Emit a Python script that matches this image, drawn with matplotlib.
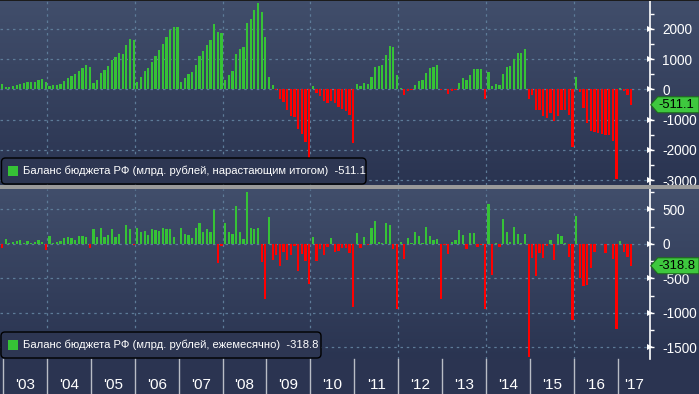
import numpy as np
import matplotlib
matplotlib.use('Agg')
import matplotlib.pyplot as plt
from matplotlib.patches import Polygon, Rectangle, FancyBboxPatch
from matplotlib.transforms import IdentityTransform
from matplotlib.colors import LinearSegmentedColormap
from matplotlib.ticker import FixedLocator, FuncFormatter

plt.rcParams['font.family'] = ['Liberation Sans', 'DejaVu Sans']
plt.rcParams['axes.unicode_minus'] = False

# budget balance, bn RUB, monthly points Dec 2002 .. Apr 2017
# cumulative since start of each year
cumulative = [
    178,                                                                       # Dec 2002
    78, 67, 111, 144, 178, 211, 244, 244, 244, 311, 344, 244,                  # 2003
    111, 144, 144, 178, 278, 378, 444, 511, 611, 711, 811, 744,                # 2004
    211, 311, 544, 644, 778, 978, 1078, 1211, 1178, 1478, 1678, 1644,          # 2005
    244, 411, 611, 711, 911, 1111, 1311, 1511, 1744, 1944, 2044, 2044,         # 2006
    244, 378, 511, 578, 811, 1111, 1278, 1478, 1644, 2144, 1878, 1844,         # 2007
    311, 478, 611, 1178, 1344, 1411, 2178, 2333, 2611, 2844, 2544, 1744,       # 2008
    411, 144, -20, -333, -433, -700, -867, -900, -1300, -1467, -1733, -2260,   # 2009
    111, -133, -219, -372, -437, -383, -459, -590, -656, -732, -863, -1785,    # 2010
    175, 120, 208, 175, 404, 732, 765, 798, 1126, 1421, 1388, 470,             # 2011
    44, -186, -44, -10, 142, 273, 306, 536, 700, 732, 798, -20,                # 2012
    -5, -142, -44, -10, 208, 372, 306, 470, 667, 667, 667, -320,               # 2013
    571, 110, 176, 143, 505, 736, 769, 1000, 1198, 1198, 1330, -308,           # 2014
    -187, -670, -670, -868, -934, -769, -1033, -868, -670, -670, -846, -1923,  # 2015
    407, -77, -604, -1099, -1363, -1396, -1429, -1462, -1495, -1495, -1725, -2956,  # 2016
    44, -44, -200, -511.1,                                                     # 2017
]

# monthly values
monthly = [
    -58,                                                                       # Dec 2002
    63, 10, 19, 34, 48, 10, 34, 10, 19, 48, 19, -87,                           # 2003
    106, 10, 19, 34, 77, 92, 77, 48, 106, 106, 92, -58,                        # 2004
    208, 92, 222, 92, 121, 208, 92, 135, -5, 266, 208, -24,                    # 2005
    222, 164, 179, 121, 208, 193, 179, 222, 208, 208, 92, 3,                   # 2006
    222, 135, 121, 77, 222, 295, 164, 208, 164, 483, -285, -39,                # 2007
    295, 164, 135, 541, 164, 63, 744, 222, 208, 222, -270, -802,               # 2008
    382, -237, -164, -324, -116, -237, -164, -34, -396, -145, -251, -584,      # 2009
    92, -251, -82, -169, -48, 77, -116, -106, -68, -68, -140, -923,            # 2010
    150, -68, 92, -24, 222, 324, 19, 10, 295, 266, -82, -952,                  # 2011
    19, -227, 77, 10, 164, 106, 10, 237, 106, 48, 63, -802,                    # 2012
    -14, -150, 19, 48, 193, 121, -82, 150, 150, -53, -24, -952,                # 2013
    570, -459, 10, -53, 353, 164, 19, 237, 135, 10, 145, -1647,                # 2014
    -213, -464, -140, -213, -29, 48, -237, 135, 106, 10, -198, -1111,          # 2015
    396, -502, -613, -604, -353, -121, -5, -5, -140, -5, -222, -1241,          # 2016
    34, -121, -198, -318.8,                                                    # 2017
]

years = ["'03", "'04", "'05", "'06", "'07", "'08", "'09", "'10",
         "'11", "'12", "'13", "'14", "'15", "'16", "'17"]

label_top = 'Баланс бюджета РФ (млрд. рублей, нарастающим итогом)'
label_bot = 'Баланс бюджета РФ (млрд. рублей, ежемесячно)'

GREEN = '#36c236'
RED = '#ff0000'
GRID = '#5d7b98'
W, H = 699, 394

fig = plt.figure(figsize=(W / 100, H / 100), dpi=100)
fig.patch.set_facecolor('#2b3451')

grad = LinearSegmentedColormap.from_list('bg', ['#2a3451', '#414e6b'])
gimg = np.linspace(0, 1, 256).reshape(-1, 1)[::-1]


def fy(py):
    return 1 - py / H


def panel(top_px, bot_px):
    bg = fig.add_axes([0, fy(bot_px), 1, (bot_px - top_px) / H], zorder=0)
    bg.imshow(gimg, aspect='auto', cmap=grad, extent=[0, 1, 0, 1], vmin=0, vmax=1)
    bg.axis('off')
    ax = fig.add_axes([0, fy(bot_px), 649.7 / W, (bot_px - top_px) / H], zorder=1)
    ax.patch.set_alpha(0)
    return ax


ax1 = panel(0, 185)
ax2 = panel(189, 359)

x = np.arange(len(cumulative))
bounds = 12 * np.arange(len(years)) + 0.3
xmax = 177.1

for ax, vals, major, minor, ylim in [
        (ax1, cumulative, np.arange(-3000, 2001, 1000), np.arange(-3000, 2501, 500), (-3163, 2951)),
        (ax2, monthly, np.arange(-1500, 501, 500), np.arange(-1500, 751, 250), (-1670, 794))]:
    v = np.array(vals, dtype=float)
    cols = [GREEN if a >= 0 else RED for a in v]
    ax.bar(x, v, width=0.62, color=cols, linewidth=0, zorder=3)
    ax.set_xlim(-0.55, xmax)
    ax.set_ylim(*ylim)
    for gy in major:
        ax.axhline(gy, color=GRID, lw=0.9, ls=(0, (2, 3)), zorder=1)
    for gx in bounds[1::2]:
        ax.axvline(gx, color=GRID, lw=0.9, ls=(0, (2, 3)), zorder=1)
    for s in ['top', 'left', 'bottom']:
        ax.spines[s].set_visible(False)
    ax.spines['right'].set_color('white')
    ax.spines['right'].set_linewidth(1.2)
    ax.set_xticks([])
    ax.yaxis.tick_right()
    ax.yaxis.set_major_locator(FixedLocator(major))
    ax.yaxis.set_minor_locator(FixedLocator(minor))
    ax.yaxis.set_major_formatter(FuncFormatter(lambda t, p: f'{t:.0f}'))
    ax.tick_params(axis='y', which='major', length=3, width=1, color='white',
                   labelcolor='white', labelsize=9.8, pad=6)
    ax.tick_params(axis='y', which='minor', length=3, width=1, color='white')
    ax.plot(np.full(len(major), 1.0), major, ls='none', marker='>', ms=5,
            color='white', transform=ax.get_yaxis_transform(), clip_on=False,
            zorder=4, markeredgewidth=0)

# value tags on the right axis
for ax, vals in [(ax1, cumulative), (ax2, monthly)]:
    last = vals[-1]
    yd = ax.transData.transform((0, last))[1]
    x0 = ax.transAxes.transform((1, 0))[0] + 1
    h = 8
    pts = [(x0, yd), (x0 + 7, yd + h), (W, yd + h), (W, yd - h), (x0 + 7, yd - h)]
    fig.add_artist(Polygon(pts, closed=True, transform=IdentityTransform(),
                           fc='#3ec83e', ec='#1e6a1e', lw=0.8, zorder=6))
    fig.text((x0 + 8) / W, yd / H, f'{last:.1f}', color='black', fontsize=9.4,
             va='center', ha='left', zorder=7)

# legend boxes
for (x0, y0, x1, y1), txt in [((1.5, 158, 366, 184), f'{label_top}  {cumulative[-1]:.1f}'),
                              ((1, 332, 321, 358), f'{label_bot}  {monthly[-1]:.1f}')]:
    box = FancyBboxPatch((x0, H - y1), x1 - x0, y1 - y0,
                         boxstyle='round,pad=0,rounding_size=4',
                         transform=IdentityTransform(), fc='#2d3652', ec='black',
                         lw=1, zorder=6)
    fig.add_artist(box)
    ym = (y0 + y1) / 2
    fig.add_artist(Rectangle((8.3, H - ym - 4.7), 9.4, 9.4, transform=IdentityTransform(),
                             fc=GREEN, ec='none', zorder=7))
    fig.text(23 / W, fy(ym), txt, color='white', fontsize=8.1, va='center',
             ha='left', zorder=7)

# separator between panels and top edge
fig.add_artist(Rectangle((0, fy(189)), 1, 4 / H, transform=fig.transFigure,
                         fc='#9a9a9a', ec='none', zorder=5))
fig.add_artist(Rectangle((0, fy(1)), 1, 1 / H, transform=fig.transFigure,
                         fc='#1c1c1c', ec='none', zorder=5))

# year axis below the bottom panel
xt = ax2.get_xaxis_transform()
for b in bounds:
    ax2.plot([b, b], [0, -34 / 170], color='#b9bdc6', lw=1, transform=xt, clip_on=False)
centers = list((bounds[:-1] + bounds[1:]) / 2) + [(bounds[-1] + xmax) / 2]
for c, yl in zip(centers, years):
    ax2.text(c, -26 / 170, yl, transform=xt, color='white', fontsize=11,
             ha='center', va='center')

fig.savefig('out.png', dpi=100, facecolor=fig.get_facecolor())
